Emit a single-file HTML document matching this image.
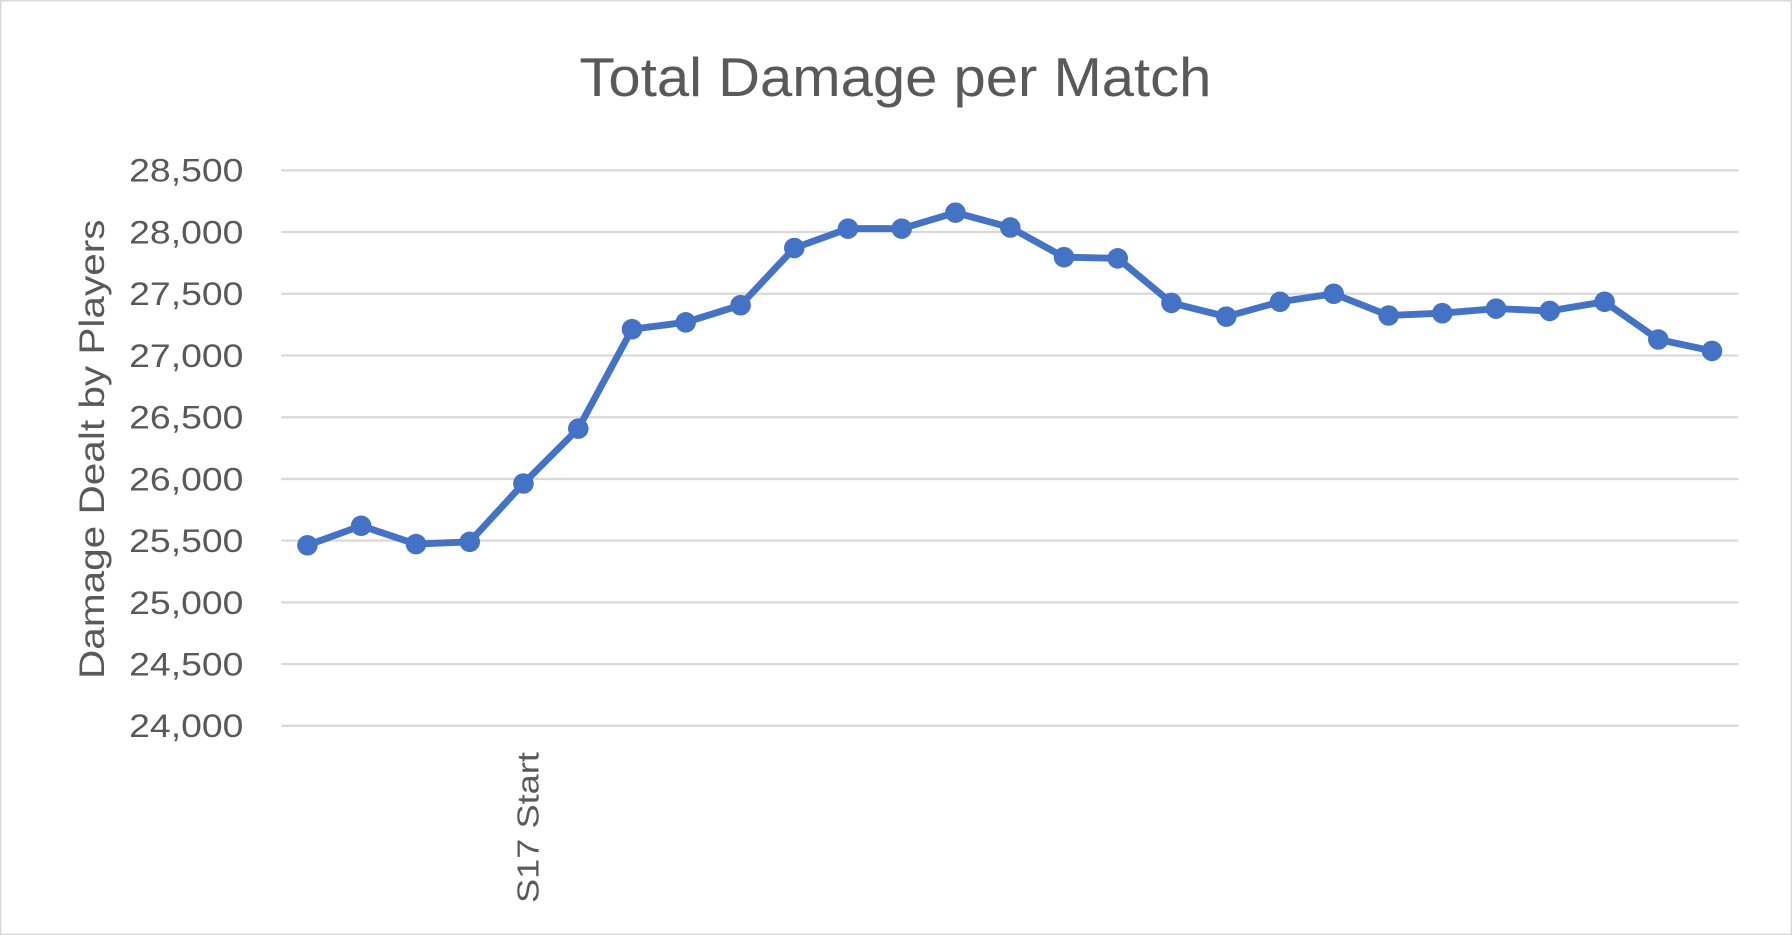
<!DOCTYPE html>
<html><head><style>
html,body{margin:0;padding:0;background:#fff;}
svg{display:block;}
text{font-family:"Liberation Sans",sans-serif;fill:#595959;}
</style></head><body>
<svg width="1792" height="935" viewBox="0 0 1568 818" preserveAspectRatio="none">
<rect x="0.5" y="0.5" width="1567" height="817" fill="#fff" stroke="#d9d9d9" stroke-width="1.5"/>
<text x="507" y="84" font-size="48" textLength="553" lengthAdjust="spacingAndGlyphs">Total Damage per Match</text>
<g stroke="#d9d9d9" stroke-width="2">
<line x1="246" x2="1521" y1="149" y2="149"/><line x1="246" x2="1521" y1="203" y2="203"/>
<line x1="246" x2="1521" y1="257" y2="257"/><line x1="246" x2="1521" y1="311" y2="311"/>
<line x1="246" x2="1521" y1="365" y2="365"/><line x1="246" x2="1521" y1="419" y2="419"/>
<line x1="246" x2="1521" y1="473" y2="473"/><line x1="246" x2="1521" y1="527" y2="527"/>
<line x1="246" x2="1521" y1="581" y2="581"/><line x1="246" x2="1521" y1="635" y2="635"/>
</g>
<g font-size="28">
<text x="113" y="159" textLength="100" lengthAdjust="spacingAndGlyphs">28,500</text>
<text x="113" y="213" textLength="100" lengthAdjust="spacingAndGlyphs">28,000</text>
<text x="113" y="267" textLength="100" lengthAdjust="spacingAndGlyphs">27,500</text>
<text x="113" y="321" textLength="100" lengthAdjust="spacingAndGlyphs">27,000</text>
<text x="113" y="375" textLength="100" lengthAdjust="spacingAndGlyphs">26,500</text>
<text x="113" y="429" textLength="100" lengthAdjust="spacingAndGlyphs">26,000</text>
<text x="113" y="483" textLength="100" lengthAdjust="spacingAndGlyphs">25,500</text>
<text x="113" y="537" textLength="100" lengthAdjust="spacingAndGlyphs">25,000</text>
<text x="113" y="591" textLength="100" lengthAdjust="spacingAndGlyphs">24,500</text>
<text x="113" y="645" textLength="100" lengthAdjust="spacingAndGlyphs">24,000</text>
</g>
<text transform="translate(91,594) rotate(-90)" font-size="31" textLength="402" lengthAdjust="spacingAndGlyphs">Damage Dealt by Players</text>
<text transform="translate(471,790) rotate(-90)" font-size="27" textLength="132" lengthAdjust="spacingAndGlyphs">S17 Start</text>
<polyline fill="none" stroke="#4472c4" stroke-width="6" stroke-linejoin="round" points="269,477 316,460 364,476 411,474 458,423 506,375 553,288 600,282 648,267 695,217 742,200 789,200 836,186 884,199 931,225 978,226 1025,265 1073,277 1120,264 1167,257 1215,276 1262,274 1309,270 1356,272 1404,264 1451,297 1498,307"/>
<g fill="#4472c4">
<circle cx="269" cy="477" r="9"/><circle cx="316" cy="460" r="9"/><circle cx="364" cy="476" r="9"/><circle cx="411" cy="474" r="9"/><circle cx="458" cy="423" r="9"/><circle cx="506" cy="375" r="9"/><circle cx="553" cy="288" r="9"/><circle cx="600" cy="282" r="9"/><circle cx="648" cy="267" r="9"/><circle cx="695" cy="217" r="9"/><circle cx="742" cy="200" r="9"/><circle cx="789" cy="200" r="9"/><circle cx="836" cy="186" r="9"/><circle cx="884" cy="199" r="9"/><circle cx="931" cy="225" r="9"/><circle cx="978" cy="226" r="9"/><circle cx="1025" cy="265" r="9"/><circle cx="1073" cy="277" r="9"/><circle cx="1120" cy="264" r="9"/><circle cx="1167" cy="257" r="9"/><circle cx="1215" cy="276" r="9"/><circle cx="1262" cy="274" r="9"/><circle cx="1309" cy="270" r="9"/><circle cx="1356" cy="272" r="9"/><circle cx="1404" cy="264" r="9"/><circle cx="1451" cy="297" r="9"/><circle cx="1498" cy="307" r="9"/>
</g>
</svg>
</body></html>
